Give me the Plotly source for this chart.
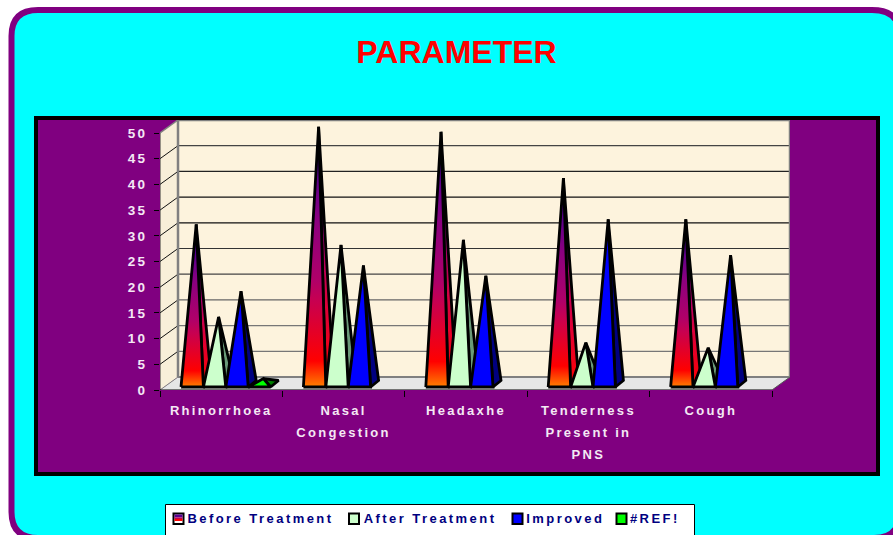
import plotly.graph_objects as go

# ---- data
categories = ["Rhinorrhoea", "Nasal<br>Congestion", "Headaxhe", "Tenderness<br>Present in<br>PNS", "Cough"]
series_names = ["Before Treatment", "After Treatment", "Improved", "#REF!"]
before_treatment = [31, 50, 49, 40, 32]
after_treatment = [13, 27, 28, 8, 7]
improved = [18, 23, 21, 32, 25]
ref_error = [1, 0, 0, 0, 0]
y_ticks = [0, 5, 10, 15, 20, 25, 30, 35, 40, 45, 50]

W, H = 893, 535
X0, X1, Y0, Y1 = 160, 790, 390, 120     # plot frame in px
PX_X = 612 / 5                           # px per category
PX_Y = 257 / 50                          # px per unit
XMAX = (X1 - X0) / PX_X
YMAX = (Y0 - Y1) / PX_Y
DX = 18 / PX_X                           # 3D wall offset
DY = 13 / PX_Y
BAR_W = 22.4 / PX_X
GROUP_X = 21 / PX_X
FLOOR_Y = 3 / PX_Y                       # front edge of pyramid bases
DEPTH_X = 8 / PX_X
DEPTH_Y = 6.5 / PX_Y
APEX_Y = 6.5 / PX_Y

PURPLE = "#800080"
LABEL = "#F4E8F4"
FONT = "Liberation Sans"

fig = go.Figure()


def poly(xs, ys, fill=None, line="rgba(0,0,0,0)", width=0, grad=None):
    kw = dict(x=xs, y=ys, mode="lines", hoverinfo="skip", showlegend=False,
              line=dict(color=line, width=width), cliponaxis=False)
    if fill or grad:
        kw["fill"] = "toself"
    if fill:
        kw["fillcolor"] = fill
    if grad:
        kw["fillgradient"] = dict(type="vertical", colorscale=grad)
    fig.add_trace(go.Scatter(**kw))


# walls and floor
poly([DX, XMAX, XMAX, DX, DX], [DY, DY, YMAX, YMAX, DY], fill="#FDF3DD")
poly([0, DX, DX, 0, 0], [0, DY, YMAX, 50, 0], fill="#F8EFD9")
poly([0, 5, XMAX, DX, 0], [0, 0, DY, DY, 0], fill="#E6E6E6")

grid_colors = {5: "#777777", 10: "#777777", 15: "#666666", 20: "#444444", 25: "#333333",
               30: "#111111", 35: "#111111", 40: "#222222", 45: "#444444"}
for v in y_ticks[1:-1]:
    poly([DX, XMAX], [v + DY, v + DY], line=grid_colors[v], width=1.2)
    poly([0, DX], [v, v + DY], line="#111111", width=1)

# frame of the walls
poly([DX, DX, XMAX, XMAX], [DY, YMAX, YMAX, DY], line="#808080", width=2.5)
poly([DX, XMAX], [DY, DY], line="#808080", width=2)
poly([0, DX], [50, YMAX], line="#808080", width=1.5)
poly([0, DX], [0, DY], line="#808080", width=1)
poly([5, XMAX], [0, DY], line="#555555", width=1)
poly([0, 0], [0, 50], line="#333333", width=1)
poly([0, 5], [0, 0], line="#000000", width=1.2)

BEFORE_FRONT = [[0, "#FF8000"], [0.1, "#FF0000"], [0.33, "#C80050"], [0.41, "#B00068"],
                [0.65, "#8A0080"], [0.87, "#4A0090"], [1, "#30009A"]]
BEFORE_SIDE = [[0, "#FF0000"], [0.35, "#D80040"], [0.65, "#8A0080"], [1, "#30009A"]]
styles = [
    (before_treatment, dict(grad=BEFORE_FRONT), dict(grad=BEFORE_SIDE)),
    (after_treatment, dict(fill="#CCFFCC"), dict(fill="#6A9A78")),
    (improved, dict(fill="#0000FF"), dict(fill="#000080")),
    (ref_error, dict(fill="#00FF00"), dict(fill="#008000")),
]
for c in range(len(categories)):
    for s, (vals, front, side) in enumerate(styles):
        v = vals[c]
        if v == 0:
            continue
        xl = c + GROUP_X + s * BAR_W
        xr = xl + BAR_W
        ax = (xl + xr) / 2 + DEPTH_X / 2
        ay = v + FLOOR_Y + APEX_Y / 2
        poly([xr, xr + DEPTH_X, ax, xr], [FLOOR_Y, FLOOR_Y + DEPTH_Y, ay, FLOOR_Y],
             line="#000000", width=2.8, **side)
        poly([xl, xr, ax, xl], [FLOOR_Y, FLOOR_Y, ay, FLOOR_Y],
             line="#000000", width=2.8, **front)


def px(v):
    return v / W


def py(v):
    return 1 - v / H


# legend (built to match the boxed, letter-spaced original)
legend_swatch_x = [173, 348.5, 512, 616]
legend_text_center = [261, 430, 565, 654.5]
legend_fill = ["#FFFFFF", "#CCFFCC", "#0000FF", "#00FF00"]
shapes = [
    dict(type="path", xref="paper", yref="paper", layer="below", fillcolor="#00FFFF",
         line=dict(color=PURPLE, width=6),
         path=f"M {px(11.5)} {py(36)} Q {px(11.5)} {py(10)} {px(38)} {py(10)} L {px(872)} {py(10)} "
              f"Q {px(900)} {py(10)} {px(900)} {py(36)} L {px(900)} {py(512)} Q {px(900)} {py(538)} {px(874)} {py(538)} "
              f"L {px(38)} {py(538)} Q {px(11.5)} {py(538)} {px(11.5)} {py(512)} Z"),
    dict(type="rect", xref="paper", yref="paper", layer="below", fillcolor=PURPLE,
         line=dict(color="#000000", width=4),
         x0=px(36), x1=px(878), y0=py(474), y1=py(118)),
    dict(type="rect", xref="paper", yref="paper", layer="below", fillcolor="#FFFFFF",
         line=dict(color="#000000", width=1),
         x0=px(165.5), x1=px(694.5), y0=py(540), y1=py(504.5)),
]
annotations = []
for sx, tc, col, name in zip(legend_swatch_x, legend_text_center, legend_fill, series_names):
    shapes.append(dict(type="rect", xref="paper", yref="paper", fillcolor=col,
                       line=dict(color="#000000", width=2),
                       x0=px(sx + 0.5), x1=px(sx + 10.5), y0=py(524), y1=py(513.5)))
    annotations.append(dict(text=name, xref="paper", yref="paper", x=px(tc), y=py(518.5),
                            xanchor="center", yanchor="middle", showarrow=False,
                            font=dict(family=FONT, size=13, color="#000080", weight="bold")))
# first swatch carries the gradient of its series
sx = legend_swatch_x[0]
for c, top, bottom in [("#5A0090", 514.5, 517.5), ("#C00050", 517.5, 519), ("#FF0000", 519, 521)]:
    shapes.append(dict(type="rect", xref="paper", yref="paper", fillcolor=c, line=dict(width=0),
                       x0=px(sx + 1.5), x1=px(sx + 9.5), y0=py(bottom), y1=py(top)))

fig.update_layout(
    width=W, height=H, autosize=False,
    margin=dict(l=0, r=0, t=0, b=0, autoexpand=False),
    paper_bgcolor="#FFFFFF", plot_bgcolor="rgba(0,0,0,0)",
    showlegend=False, shapes=shapes, annotations=annotations,
    title=dict(text="PARAMETER", x=px(456.5), xref="paper", xanchor="center",
               y=py(52), yref="paper", yanchor="middle",
               font=dict(family=FONT, size=32, color="#FF0000", weight="bold")),
    xaxis=dict(domain=[px(X0), px(X1)], range=[0, XMAX], showgrid=False, zeroline=False,
               showline=False, ticks="", tickmode="array", automargin=False,
               tickvals=[i + 0.5 for i in range(len(categories))], ticktext=categories,
               ticklabelstandoff=11, tickangle=0,
               tickfont=dict(family=FONT, size=13, color=LABEL, weight="bold"),
               minor=dict(tickmode="array", tickvals=list(range(len(categories) + 1)),
                          ticks="outside", ticklen=6, tickcolor="#000000", tickwidth=1)),
    yaxis=dict(domain=[py(Y0), py(Y1)], range=[0, YMAX], showgrid=False, zeroline=False,
               showline=False, ticks="outside", ticklen=5, tickcolor="#000000", tickwidth=1,
               tickmode="array", tickvals=y_ticks, automargin=False,
               ticklabelstandoff=4,
               tickfont=dict(family=FONT, size=13.5, color=LABEL, weight="bold")),
)

post = """
document.documentElement.style.overflow='hidden';
document.body.style.margin='0';
document.body.style.overflow='hidden';
var st=document.createElement('style');
st.textContent=".xtick text,.ytick text{letter-spacing:2.3px}.annotation-text{letter-spacing:2.45px}";
document.head.appendChild(st);
document.querySelectorAll('.xtick text').forEach(function(t){
  t.querySelectorAll('tspan.line').forEach(function(s,i){s.setAttribute('dy',(i*22)+'px');});
});
"""
fig.write_html("out.html", post_script=post, config=dict(displayModeBar=False, responsive=False))
